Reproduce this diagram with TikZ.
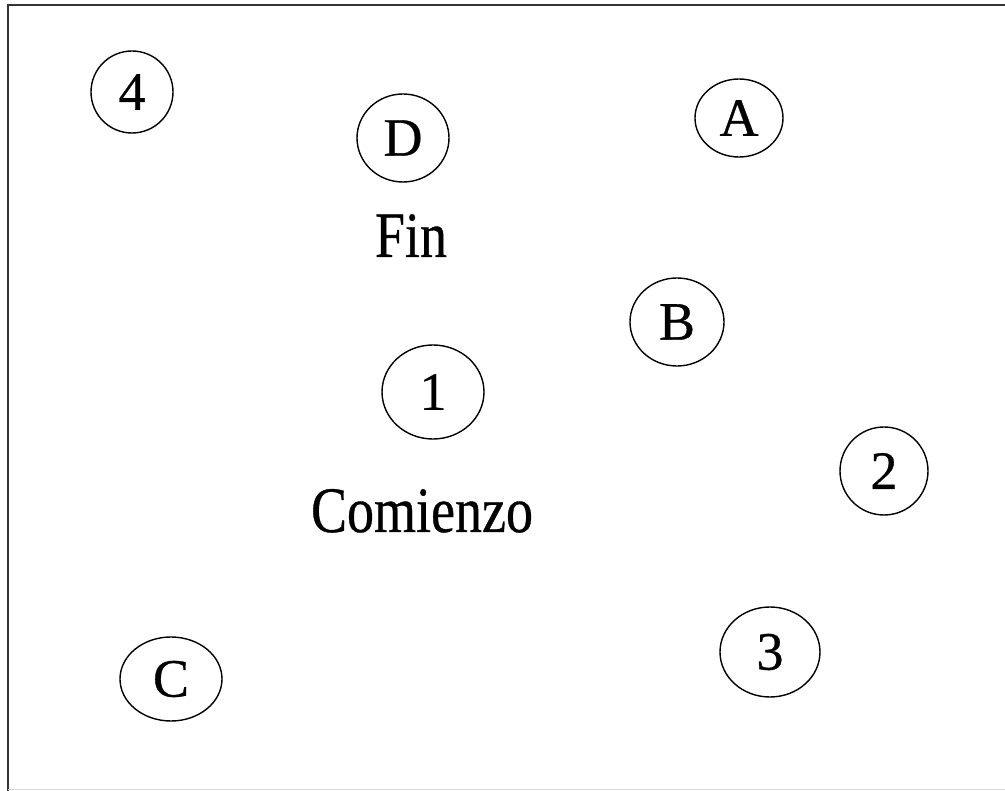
\documentclass[tikz,border=0pt]{standalone}
\usepackage{fontspec}
\setmainfont{Liberation Serif}
\newfontfamily\heavyserif{Liberation Serif}[FakeBold=0.6]
\usetikzlibrary{shapes.geometric}
\newcommand{\tallw}[1]{\scalebox{1}[1.2]{#1}}
\begin{document}
\begin{tikzpicture}[x=1pt,y=-1pt,
  ell/.style={draw, ellipse, inner sep=0pt, line width=1.4pt,
    font=\heavyserif\fontsize{54}{60}\selectfont},
  lbl/.style={anchor=base, inner sep=0pt, font=\heavyserif\fontsize{54}{60}\selectfont},
  frame/.style={line width=2pt, draw=black!80}]
\useasboundingbox (0,0) rectangle (1005,791);
\coordinate (tl) at (8,5);
\coordinate (tr) at (1005,5);
\coordinate (bl) at (8,791);
\coordinate (bl2) at (8,789);
\coordinate (br) at (1005,789);
\draw[frame] (tr) -- (tl) -- (bl);
\draw[line width=1pt, draw=black!15] (bl2) -- (br);
\node[ell, minimum width=82pt, minimum height=82pt] (n4) at (132,92) {4};
\node[ell, minimum width=92pt, minimum height=88pt] (nD) at (403,138) {D};
\node[ell, minimum width=88pt, minimum height=78pt] (nA) at (739,118) {A};
\node[ell, minimum width=94pt, minimum height=88pt] (nB) at (677,322) {B};
\node[ell, minimum width=102pt, minimum height=94pt] (n1) at (433,392) {1};
\node[ell, minimum width=88pt, minimum height=88pt] (n2) at (884,471) {2};
\node[ell, minimum width=100pt, minimum height=90pt] (n3) at (770,652) {3};
\node[ell, minimum width=102pt, minimum height=84pt] (nC) at (171,679) {C};
\node[lbl] (fin) at (411,257) {\tallw{Fin}};
\node[lbl] (com) at (422,532) {\tallw{Comienzo}};
\end{tikzpicture}
\end{document}
